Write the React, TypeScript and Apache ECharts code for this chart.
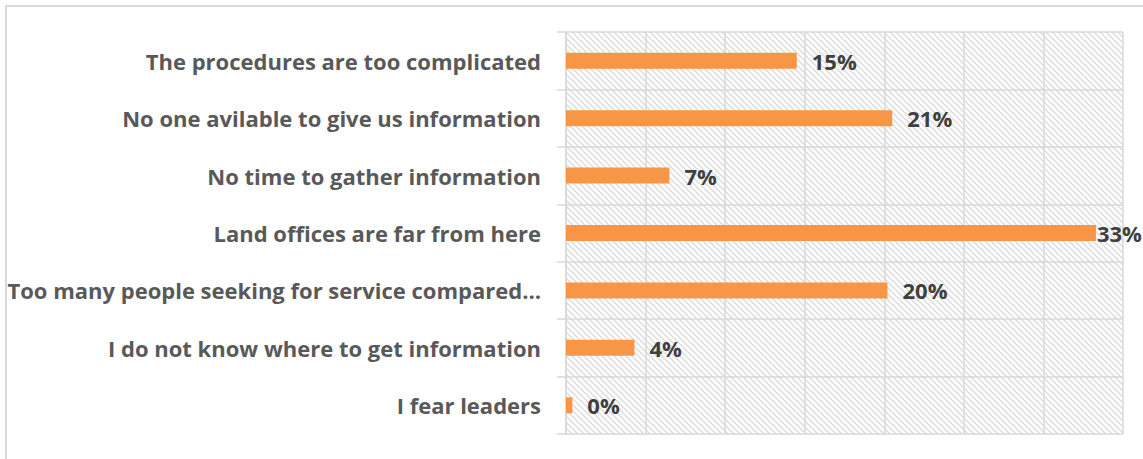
import React, { useEffect, useRef } from "react";
import * as echarts from "echarts";

const categories = [
  "The procedures are too complicated",
  "No one avilable to give us information",
  "No time to gather information",
  "Land offices are far from here",
  "Too many people seeking for service compared…",
  "I do not know where to get information",
  "I fear leaders",
];
const values = [14.5, 20.5, 6.5, 33.3, 20.2, 4.3, 0.4];
const valueLabels = ["15%", "21%", "7%", "33%", "20%", "4%", "0%"];
const axisMin = 0;
const axisMax = 35;
const axisInterval = 5;

const hatchSvg =
  "data:image/svg+xml;charset=utf-8," +
  encodeURIComponent(
    '<svg xmlns="http://www.w3.org/2000/svg" width="6" height="6">' +
      '<rect width="6" height="6" fill="#ffffff"/>' +
      '<path d="M-1,-1 L7,7 M-1,5 L1,7 M5,-1 L7,1" stroke="#dcdcdc" stroke-width="1.4"/>' +
      "</svg>"
  );

export default function App() {
  const ref = useRef<HTMLDivElement>(null);
  useEffect(() => {
    document.body.style.margin = "0";
    if (!ref.current) return;
    const chart = echarts.init(ref.current, null, { renderer: "svg" });
    const img = new Image();
    img.src = hatchSvg;
    const grid = { left: 566, top: 32, right: 20, bottom: 25 };
    const font = "'Open Sans'";
    chart.setOption({
      animation: false,
      backgroundColor: "#ffffff",
      textStyle: { fontFamily: font },
      graphic: [
        {
          type: "rect",
          shape: { x: 6, y: 6, width: 1200, height: 500 },
          style: { fill: "none", stroke: "#d9d9d9", lineWidth: 2 },
          silent: true,
        },
      ],
      grid: {
        ...grid,
        show: true,
        borderWidth: 0,
        backgroundColor: { image: img, repeat: "repeat" } as any,
      },
      xAxis: {
        type: "value",
        min: axisMin,
        max: axisMax,
        interval: axisInterval,
        axisLabel: { show: false },
        axisLine: { show: false },
        axisTick: { show: false },
        splitLine: { show: true, lineStyle: { color: "#d9d9d9", width: 1.5 } },
      },
      yAxis: {
        type: "category",
        data: categories,
        inverse: true,
        axisLine: { show: true, lineStyle: { color: "#d9d9d9", width: 1.5 } },
        axisTick: { show: true, length: 9, lineStyle: { color: "#d9d9d9", width: 1.5 } },
        splitLine: { show: true, lineStyle: { color: "#d9d9d9", width: 1.5 } },
        axisLabel: {
          margin: 25,
          color: "#595959",
          fontSize: 22,
          fontWeight: "bold",
          fontFamily: font,
        },
      },
      series: [
        {
          type: "bar",
          barWidth: 16,
          itemStyle: { color: "#f79646" },
          data: values.map((v) => ({
            value: v,
            label: { distance: v > 30 ? 1 : 15 },
          })),
          label: {
            show: true,
            position: "right",
            color: "#404040",
            fontSize: 22,
            fontWeight: "bold",
            fontFamily: font,
            formatter: (p: any) => valueLabels[p.dataIndex],
          },
        },
      ],
    });
    img.onload = () => chart.resize();
    return () => chart.dispose();
  }, []);
  return <div ref={ref} style={{ width: 1143, height: 459 }} />;
}
